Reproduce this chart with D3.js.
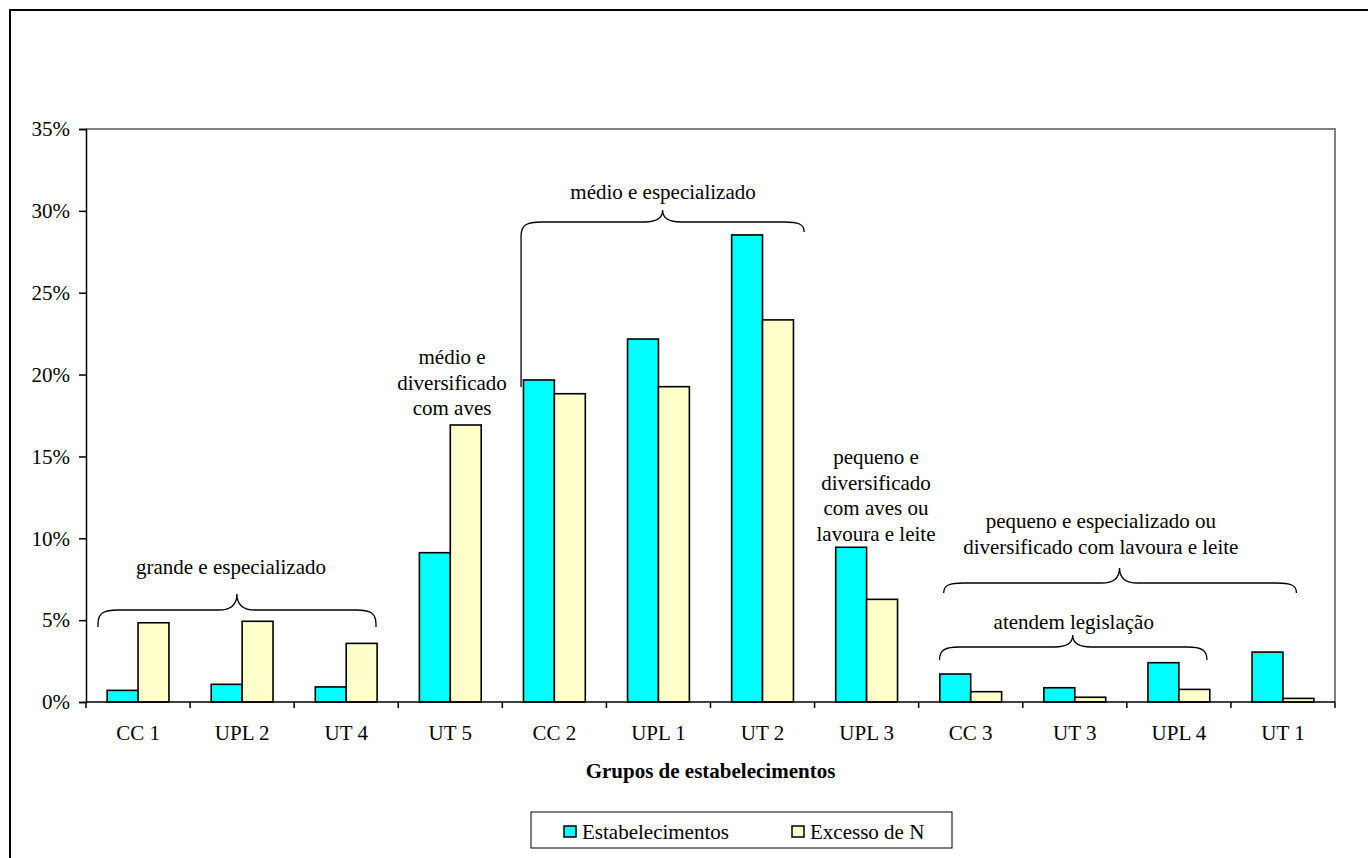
<!DOCTYPE html>
<html>
<head>
<meta charset="utf-8">
<script src="https://cdn.jsdelivr.net/npm/d3@7"></script>
<style>
  html, body { margin: 0; padding: 0; background: #fff; }
  svg { display: block; }
  text { font-family: "Liberation Serif", "Times New Roman", serif; fill: #000; }
</style>
</head>
<body>
<svg id="chart" width="1368" height="858"></svg>
<script>
// ---- data ----
const categories = ["CC 1", "UPL 2", "UT 4", "UT 5", "CC 2", "UPL 1", "UT 2", "UPL 3", "CC 3", "UT 3", "UPL 4", "UT 1"];
const seriesNames = ["Estabelecimentos", "Excesso de N"];
const estabelecimentos = [0.71, 1.08, 0.92, 9.12, 19.67, 22.17, 28.53, 9.45, 1.71, 0.87, 2.40, 3.05];
const excessoN = [4.84, 4.93, 3.58, 16.92, 18.83, 19.26, 23.34, 6.27, 0.63, 0.29, 0.77, 0.22];
const yTickValues = [0, 5, 10, 15, 20, 25, 30, 35];
const xTitle = "Grupos de estabelecimentos";

// annotation braces (x in category-index units, y in %)
const braces = [
  { x0: 0.115, x1: 2.786, tip: 1.45, yH: 5.62, yTip: 6.60, yEndL: 4.58, yEndR: 4.58 },
  { x0: 4.18, x1: 6.90, tip: 5.54, yH: 29.32, yTip: 30.05, yEndL: 19.24, yEndR: 28.71 },
  { x0: 8.24, x1: 11.63, tip: 9.93, yH: 7.27, yTip: 8.19, yEndL: 6.66, yEndR: 6.66 },
  { x0: 8.20, x1: 10.77, tip: 9.48, yH: 3.36, yTip: 4.09, yEndL: 2.57, yEndR: 2.57 }
];
// annotation labels (x in category-index units, y in % of first line)
const labels = [
  { x: 1.393, y: 8.25, lines: ["grande e especializado"] },
  { x: 5.544, y: 31.15, lines: ["médio e especializado"] },
  { x: 3.517, y: 21.08, lines: ["médio e", "diversificado", "com aves"] },
  { x: 7.59, y: 14.97, lines: ["pequeno e", "diversificado", "com aves ou", "lavoura e leite"] },
  { x: 9.75, y: 11.06, lines: ["pequeno e especializado ou", "diversificado com lavoura e leite"] },
  { x: 9.49, y: 4.89, lines: ["atendem legislação"] }
];

const colors = ["#00FFFF", "#FFFFCC"];
const FONT = 21;

// ---- layout ----
const svg = d3.select("#chart");
const plot = { left: 86, right: 1335, top: 129, bottom: 702 };

// outer frame
svg.append("rect")
  .attr("x", 10).attr("y", 10)
  .attr("width", 1400).attr("height", 900)
  .attr("fill", "none").attr("stroke", "#000").attr("stroke-width", 2);

const x = d3.scaleBand().domain(categories).range([plot.left, plot.right]).paddingInner(0).paddingOuter(0);
const xIdx = d3.scaleLinear().domain([0, categories.length]).range([plot.left, plot.right]);
const xSub = d3.scaleBand().domain(seriesNames).range([x.bandwidth() * 0.203, x.bandwidth() * 0.797]);
const y = d3.scaleLinear().domain([0, 0.35]).range([plot.bottom, plot.top]);

// plot area border top/right (gray)
svg.append("path")
  .attr("d", `M${plot.left},${plot.top}H${plot.right}V${plot.bottom}`)
  .attr("fill", "none").attr("stroke", "#808080").attr("stroke-width", 2);

// bars
const data = categories.map((c, i) => ({ cat: c, vals: [estabelecimentos[i], excessoN[i]] }));
const groups = svg.append("g").selectAll("g").data(data).join("g")
  .attr("transform", d => `translate(${x(d.cat)},0)`);
groups.selectAll("rect")
  .data(d => d.vals.map((v, j) => ({ s: seriesNames[j], v: v / 100, j })))
  .join("rect")
  .attr("x", d => xSub(d.s))
  .attr("width", xSub.bandwidth())
  .attr("y", d => y(d.v))
  .attr("height", d => y(0) - y(d.v))
  .attr("fill", d => colors[d.j])
  .attr("stroke", "#000").attr("stroke-width", 1.6);

// y axis
const yAxis = d3.axisLeft(y).tickValues(yTickValues.map(v => v / 100))
  .tickFormat(d => Math.round(d * 100) + "%").tickSize(7).tickPadding(9);
const gy = svg.append("g").attr("transform", `translate(${plot.left},0)`).call(yAxis);
gy.attr("font-family", null).attr("font-size", null);
gy.select(".domain").attr("stroke", "#000").attr("stroke-width", 1.5);
gy.selectAll(".tick line").attr("stroke", "#000").attr("stroke-width", 1.5);
gy.selectAll(".tick text").attr("font-size", FONT).attr("fill", "#000");

// x axis: baseline + boundary ticks
const gx = svg.append("g").attr("transform", `translate(0,${plot.bottom})`);
gx.append("line").attr("x1", plot.left).attr("x2", plot.right).attr("y1", 0).attr("y2", 0)
  .attr("stroke", "#000").attr("stroke-width", 1.5);
gx.selectAll("line.tk").data(d3.range(categories.length + 1)).join("line")
  .attr("class", "tk")
  .attr("x1", d => xIdx(d)).attr("x2", d => xIdx(d))
  .attr("y1", 0).attr("y2", 6)
  .attr("stroke", "#000").attr("stroke-width", 1.5);
gx.selectAll("text").data(categories).join("text")
  .attr("x", d => x(d) + x.bandwidth() / 2)
  .attr("y", 31)
  .attr("dy", "0.35em")
  .attr("text-anchor", "middle")
  .attr("font-size", FONT)
  .text(d => d);

// x title
svg.append("text")
  .attr("x", (plot.left + plot.right) / 2).attr("y", 771).attr("dy", "0.35em")
  .attr("text-anchor", "middle").attr("font-size", FONT).attr("font-weight", "bold")
  .text(xTitle);

// braces
function bracePath(b) {
  const x0 = xIdx(b.x0), x1 = xIdx(b.x1), t = xIdx(b.tip);
  const yH = y(b.yH / 100), yT = y(b.yTip / 100);
  const yL = y(b.yEndL / 100), yR = y(b.yEndR / 100);
  const r = 20, rt = 18;
  const cvL = Math.min(14, yL - yH), cvR = Math.min(14, yR - yH);
  const p = d3.path();
  p.moveTo(x0, yL);
  p.lineTo(x0, yH + cvL);
  p.bezierCurveTo(x0, yH + cvL * 0.2, x0 + r * 0.3, yH, x0 + r, yH);
  p.lineTo(t - rt, yH);
  p.bezierCurveTo(t - rt * 0.35, yH, t, yH - (yH - yT) * 0.3, t, yT);
  p.bezierCurveTo(t, yH - (yH - yT) * 0.3, t + rt * 0.35, yH, t + rt, yH);
  p.lineTo(x1 - r, yH);
  p.bezierCurveTo(x1 - r * 0.3, yH, x1, yH + cvR * 0.2, x1, yH + cvR);
  p.lineTo(x1, yR);
  return p.toString();
}
svg.append("g").selectAll("path").data(braces).join("path")
  .attr("d", bracePath)
  .attr("fill", "none").attr("stroke", "#000").attr("stroke-width", 1.3);

// labels
const lab = svg.append("g").selectAll("text").data(labels).join("text")
  .attr("text-anchor", "middle").attr("font-size", FONT)
  .attr("x", d => xIdx(d.x)).attr("y", d => y(d.y / 100));
lab.selectAll("tspan").data(d => d.lines.map((l, i) => ({ l, i, x: xIdx(d.x) }))).join("tspan")
  .attr("x", d => d.x)
  .attr("dy", d => d.i === 0 ? "0.35em" : "25.6px")
  .text(d => d.l);

// legend
const leg = svg.append("g");
leg.append("rect").attr("x", 531).attr("y", 812).attr("width", 421).attr("height", 36)
  .attr("fill", "#fff").attr("stroke", "#000").attr("stroke-width", 1);
const legItems = [{ name: seriesNames[0], c: colors[0], x: 564 }, { name: seriesNames[1], c: colors[1], x: 792 }];
const li = leg.selectAll("g.item").data(legItems).join("g").attr("class", "item")
  .attr("transform", d => `translate(${d.x},826)`);
li.append("rect").attr("width", 12).attr("height", 11)
  .attr("fill", d => d.c).attr("stroke", "#000").attr("stroke-width", 1.5);
li.append("text").attr("x", 18).attr("y", 6).attr("dy", "0.35em")
  .attr("font-size", FONT).text(d => d.name);
</script>
</body>
</html>
